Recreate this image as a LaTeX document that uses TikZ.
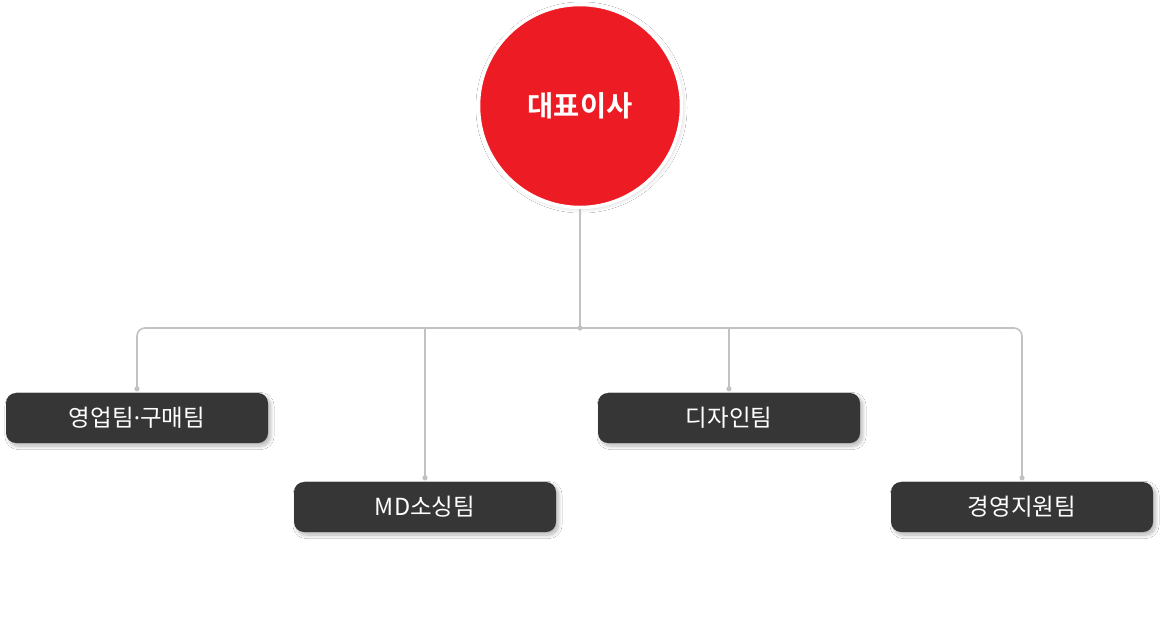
\documentclass[tikz,border=0pt]{standalone}
\usepackage{fontspec}
\newfontfamily\kr{Noto Sans CJK KR}
\newfontfamily\krb{Noto Sans CJK KR Bold}
\newfontfamily\latdot{Noto Sans}
\usetikzlibrary{shadows.blur}
\definecolor{bossred}{HTML}{ED1C24}
\definecolor{boxgray}{HTML}{363636}
\definecolor{linegray}{HTML}{C2C2C2}
\tikzset{
  team/.style={rectangle, rounded corners=10pt, fill=boxgray, text=white,
    minimum width=262pt, minimum height=50pt, inner sep=0pt,
    font=\kr\fontsize{23.5}{28}\selectfont,
    blur shadow={shadow xshift=2.5pt, shadow yshift=-3pt, shadow blur steps=20, shadow opacity=30, shadow blur radius=3.5pt}},
  boss/.style={circle, fill=bossred, draw=white, line width=3.5pt, text=white,
    minimum size=203pt, inner sep=0pt, font=\krb\fontsize{28.5}{32}\selectfont,
    blur shadow={shadow xshift=1.5pt, shadow yshift=-1.5pt, shadow blur steps=20, shadow opacity=18, shadow blur radius=4pt}},
  conn/.style={draw=linegray, line width=1.6pt},
  dotmark/.style={fill=linegray}
}
\begin{document}
\begin{tikzpicture}[x=1pt,y=-1pt]
\useasboundingbox[fill=white] (0,0) rectangle (1165,625);
\node[boss] (ceo) at (580,106) {대표이사};
\node[team] (t1) at (137,418) {영업팀{\latdot ·}구매팀};
\node[team] (t2) at (425,507) {MD소싱팀};
\node[team] (t3) at (729,418) {디자인팀};
\node[team] (t4) at (1022,507) {경영지원팀};
\coordinate (j) at (580,328);
\coordinate (d1) at ([yshift=4pt]t1.north);
\coordinate (d2) at ([yshift=4pt]t2.north);
\coordinate (d3) at ([yshift=4pt]t3.north);
\coordinate (d4) at ([yshift=4pt]t4.north);
\draw[conn] (ceo.south) -- (j);
\draw[conn, rounded corners=8pt] (d1) |- (j) -| (d4);
\draw[conn] (d2) -- (d2 |- j);
\draw[conn] (d3) -- (d3 |- j);
\foreach \d in {d1,d2,d3,d4,j} \fill[dotmark] (\d) circle (2.6pt);
\end{tikzpicture}
\end{document}
